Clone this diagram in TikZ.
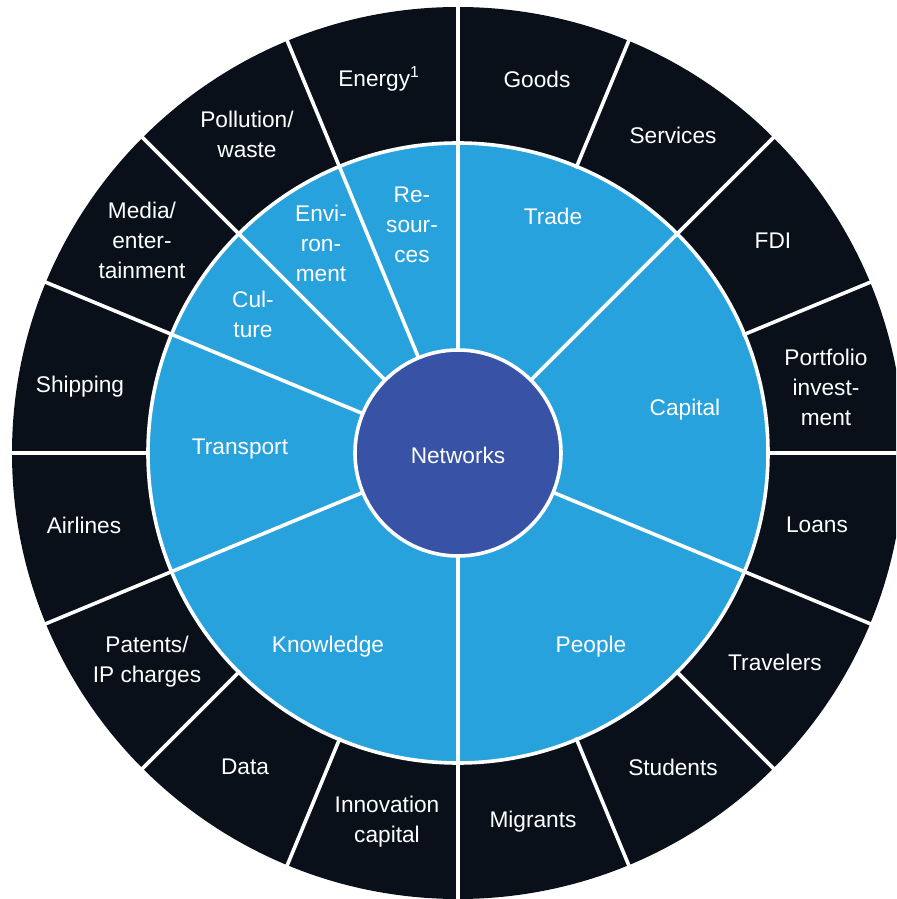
\documentclass[tikz,border=0pt]{standalone}
\usepackage{fontspec}
\setmainfont{Liberation Sans}
\definecolor{darkbg}{HTML}{0A101A}
\definecolor{ringblue}{HTML}{28A2DC}
\definecolor{hubblue}{HTML}{3853A5}
\begin{document}
\begin{tikzpicture}[x=0.75pt,y=0.75pt,
  sep/.style={white,line width=2.7pt},
  lbl/.style={text=white,align=center,font=\fontsize{17}{22.5}\selectfont,inner sep=0pt}]
\useasboundingbox (-458,-446) rectangle (438,453);
\clip (-458,-446) rectangle (438,453);
% rings
\fill[darkbg] (0,0) circle (446);
\fill[ringblue] (0,0) circle (310);
\foreach \a in {0,22.5,...,337.5} \draw[sep] (\a:308) -- (\a:455);
\foreach \a in {90,45,-22.5,-90,-157.5,157.5,135,112.5} \draw[sep] (0,0) -- (\a:310);
\draw[sep] (0,0) circle (310);
\filldraw[fill=hubblue,draw=white,line width=2.7pt] (0,0) circle (103);
% centre
\node[lbl] (networks) at (0,-2) {Networks};
% inner ring
\node[lbl] (trade) at (95,237) {Trade};
\node[lbl] (capital) at (227,43) {Capital};
\node[lbl] (people) at (133,-194) {People};
\node[lbl] (knowledge) at (-130,-194) {Knowledge};
\node[lbl] (transport) at (-218,4) {Transport};
\node[lbl] (culture) at (-205,139) {Cul-\\ture};
\node[lbl] (environment) at (-137,210) {Envi-\\ron-\\ment};
\node[lbl] (resources) at (-46,228) {Re-\\sour-\\ces};
% outer ring
\node[lbl] (energy) at (-79,374) {Energy\textsuperscript{1}};
\node[lbl] (goods) at (79,374) {Goods};
\node[lbl] (services) at (215,318) {Services};
\node[lbl] (fdi) at (315,212) {FDI};
\node[lbl] (portfolio) at (368,66) {Portfolio\\invest-\\ment};
\node[lbl] (loans) at (359,-72) {Loans};
\node[lbl] (travelers) at (317,-209) {Travelers};
\node[lbl] (students) at (215,-314) {Students};
\node[lbl] (migrants) at (75,-369) {Migrants};
\node[lbl] (innovation) at (-71,-369) {Innovation\\capital};
\node[lbl] (data) at (-213,-314) {Data};
\node[lbl] (patents) at (-311,-209) {Patents/\\IP charges};
\node[lbl] (airlines) at (-374,-72) {Airlines};
\node[lbl] (shipping) at (-378,66) {Shipping};
\node[lbl] (media) at (-316,213) {Media/\\enter-\\tainment};
\node[lbl] (pollution) at (-211,319) {Pollution/\\waste};
\end{tikzpicture}
\end{document}
